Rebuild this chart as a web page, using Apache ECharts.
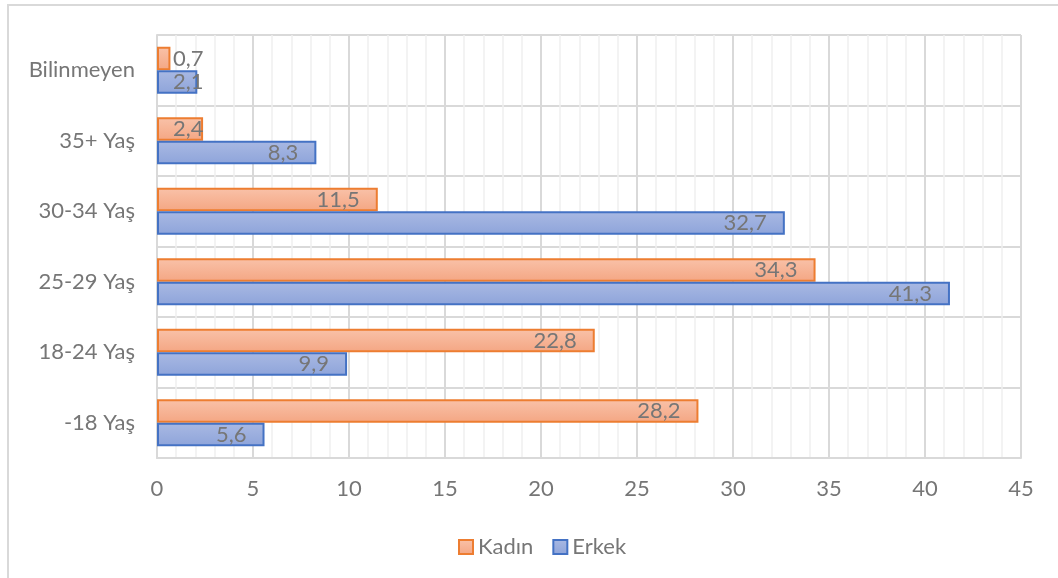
<!DOCTYPE html>
<html>
<head>
<meta charset="utf-8">
<script src="https://cdn.jsdelivr.net/npm/echarts@6/dist/echarts.min.js"></script>
<style>
html,body{margin:0;padding:0;background:#fff;}
#c{width:1058px;height:578px;}
</style>
</head>
<body>
<div id="c"></div>
<script>
const categories = ['-18 Yaş', '18-24 Yaş', '25-29 Yaş', '30-34 Yaş', '35+ Yaş', 'Bilinmeyen'];
const kadin = [28.2, 22.8, 34.3, 11.5, 2.4, 0.7];
const erkek = [5.6, 9.9, 41.3, 32.7, 8.3, 2.1];
const seriesNames = ['Kadın', 'Erkek'];

const FONT = 'Lato';
const FS = 22;
const fmt = v => String(v).replace('.', ',');

function items(arr) {
  return arr.map(v => v < 3
    ? { value: v, label: { position: 'insideLeft', distance: 16 } }
    : { value: v });
}

const labelCfg = {
  show: true,
  position: 'insideRight',
  distance: 18,
  color: '#767676',
  fontFamily: FONT,
  fontSize: FS,
  formatter: p => fmt(p.value)
};

const chart = echarts.init(document.getElementById('c'), null, { renderer: 'canvas' });
chart.setOption({
  animation: false,
  backgroundColor: '#fff',
  graphic: [{
    type: 'rect',
    shape: { x: 8, y: 5, width: 1080, height: 600 },
    style: { fill: 'none', stroke: '#d9d9d9', lineWidth: 2 },
    silent: true,
    z: -1
  }],
  grid: { left: 157, right: 37, top: 35, bottom: 120, containLabel: false },
  legend: {
    data: seriesNames,
    left: 453,
    top: 531,
    itemWidth: 14,
    itemHeight: 14,
    itemGap: 19,
    icon: 'rect',
    textStyle: { color: '#767676', fontFamily: FONT, fontSize: FS }
  },
  xAxis: {
    type: 'value',
    min: 0,
    max: 45,
    interval: 5,
    axisLine: { show: true, lineStyle: { color: '#d9d9d9', width: 2 } },
    axisTick: { show: false },
    axisLabel: { color: '#767676', fontFamily: FONT, fontSize: FS, margin: 20 },
    splitLine: { show: true, lineStyle: { color: '#d9d9d9', width: 2 } },
    minorTick: { show: false, splitNumber: 5 },
    minorSplitLine: { show: true, lineStyle: { color: '#efefef', width: 1.5 } }
  },
  yAxis: {
    type: 'category',
    data: categories,
    axisLine: { show: true, lineStyle: { color: '#d9d9d9', width: 2 } },
    axisTick: { show: false },
    axisLabel: { color: '#767676', fontFamily: FONT, fontSize: FS, margin: 22 },
    splitLine: { show: true, lineStyle: { color: '#d9d9d9', width: 2 } }
  },
  series: [
    {
      name: seriesNames[0],
      type: 'bar',
      data: items(kadin),
      barGap: '0%',
      barCategoryGap: '33%',
      itemStyle: {
        color: new echarts.graphic.LinearGradient(0, 0, 0, 1, [
          { offset: 0, color: '#f9c2a9' },
          { offset: 1, color: '#f4a683' }
        ]),
        borderColor: '#ed7d31',
        borderWidth: 2
      },
      label: labelCfg
    },
    {
      name: seriesNames[1],
      type: 'bar',
      data: items(erkek),
      barGap: '0%',
      barCategoryGap: '33%',
      itemStyle: {
        color: new echarts.graphic.LinearGradient(0, 0, 0, 1, [
          { offset: 0, color: '#a9b9e3' },
          { offset: 1, color: '#8ea4da' }
        ]),
        borderColor: '#4472c4',
        borderWidth: 2
      },
      label: labelCfg
    }
  ]
});
</script>
</body>
</html>
